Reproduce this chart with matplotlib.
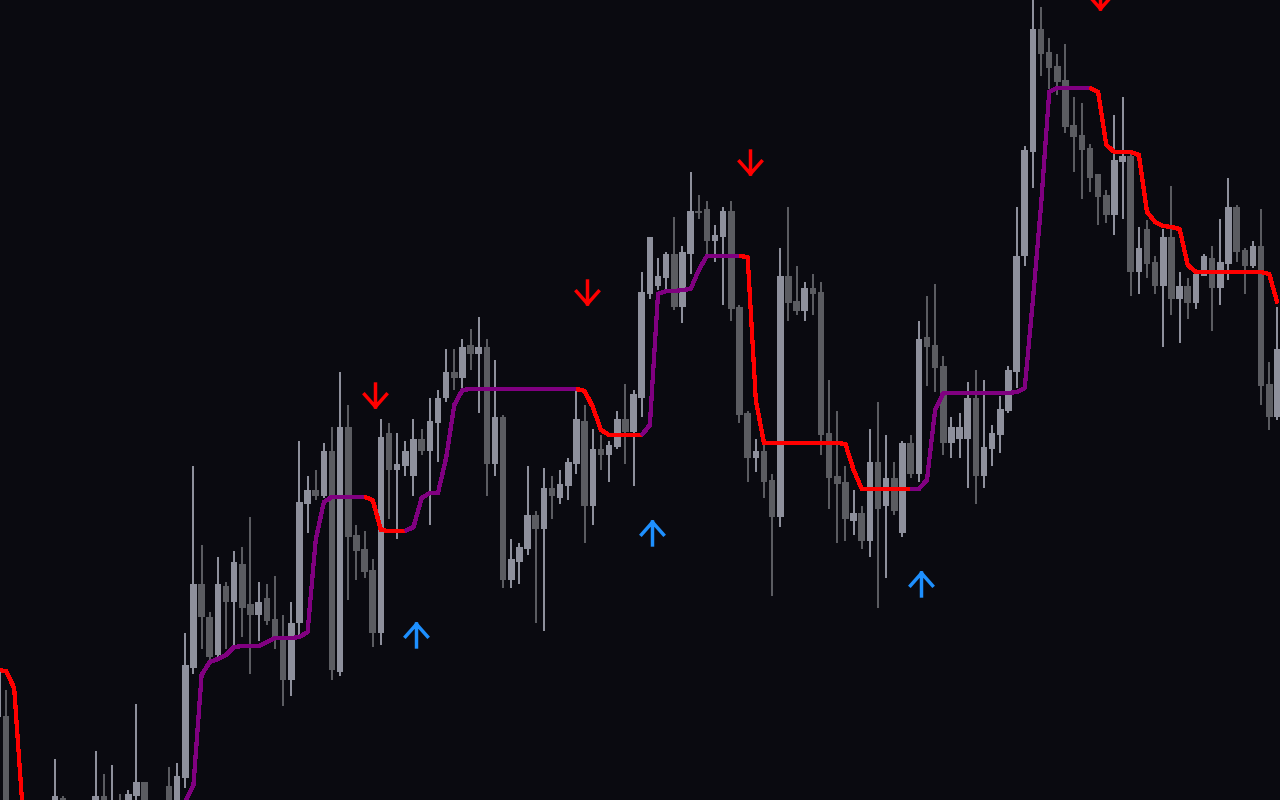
import matplotlib
matplotlib.use("Agg")
import matplotlib.pyplot as plt
from matplotlib.markers import MarkerStyle
from matplotlib.path import Path
import numpy as np

# candle data, first candle sits just left of the visible window
opens = [83, 84, -30, -55, -70, -60, -50, -20, 2, -15,
         -10, -20, -12, 4, -20, -6, -12, 4, 18, -15,
         -25, 14, -12, 22, 132, 216, 183, 145, 214, 198,
         236, 196, 185, 202, 181, 161, 120, 177, 296, 310,
         304, 349, 128, 373, 265, 251, 230, 167, 367, 330,
         334, 324, 361, 349, 377, 402, 428, 422, 455, 446,
         453, 336, 383, 220, 238, 251, 285, 271, 312, 302,
         314, 336, 379, 294, 351, 345, 353, 381, 368, 402,
         506, 514, 522, 546, 493, 546, 589, 591, 559, 563,
         589, 493, 387, 342, 349, 320, 283, 524, 499, 489,
         512, 508, 367, 324, 318, 279, 287, 259, 338, 294,
         322, 267, 357, 326, 463, 455, 434, 357, 361, 361,
         402, 324, 351, 365, 389, 428, 544, 648, 771, 748,
         734, 720, 675, 665, 652, 626, 605, 585, 638, 644,
         528, 571, 538, 514, 563, 501, 514, 497, 524, 542,
         512, 536, 593, 550, 534, 554, 416, 383]
highs = [132, 110, -20, -45, -50, -40, -20, 41, 4, -5,
         -8, -3, 49, 26, 35, 6, 10, 96, 18, -5,
         -10, 33, 37, 167, 334, 255, 188, 243, 218, 249,
         253, 283, 218, 216, 224, 185, 198, 359, 324, 330,
         357, 373, 428, 395, 275, 269, 241, 381, 377, 367,
         359, 381, 371, 402, 410, 451, 451, 461, 471, 483,
         461, 440, 385, 261, 257, 334, 289, 332, 324, 330,
         342, 410, 395, 371, 365, 359, 389, 416, 410, 528,
         563, 542, 548, 583, 554, 628, 605, 599, 575, 593,
         599, 495, 389, 361, 358, 326, 552, 593, 534, 518,
         526, 518, 420, 389, 334, 310, 294, 371, 398, 365,
         338, 359, 365, 479, 504, 516, 444, 383, 387, 418,
         430, 420, 375, 404, 434, 593, 654, 805, 793, 762,
         746, 756, 703, 697, 656, 626, 610, 685, 703, 646,
         573, 580, 544, 571, 614, 528, 522, 530, 546, 554,
         581, 622, 595, 552, 559, 591, 438, 493]
lows = [80, -45, -65, -85, -80, -75, -60, -30, -25, -25,
        -30, -28, -20, -25, -30, -25, -20, -10, -25, -35,
        -35, -20, -20, 12, 126, 151, 140, 143, 151, 153,
        163, 126, 159, 175, 151, 94, 104, 163, 267, 300,
        302, 120, 124, 200, 220, 222, 153, 155, 281, 261,
        324, 304, 345, 275, 338, 398, 410, 410, 430, 387,
        304, 324, 212, 212, 216, 245, 177, 169, 281, 296,
        300, 326, 257, 275, 330, 318, 351, 336, 314, 383,
        501, 510, 508, 490, 477, 526, 581, 543, 538, 495,
        479, 377, 318, 328, 302, 204, 273, 479, 485, 479,
        485, 345, 291, 257, 259, 265, 251, 243, 192, 222,
        285, 263, 322, 318, 414, 408, 345, 342, 342, 312,
        296, 312, 334, 347, 387, 412, 534, 612, 724, 711,
        705, 667, 628, 601, 608, 575, 577, 565, 581, 504,
        506, 522, 506, 453, 485, 457, 481, 491, 524, 469,
        495, 520, 538, 506, 532, 395, 370, 380]
closes = [130, -30, -55, -70, -60, -50, -30, 4, -15, -10,
          -20, -10, 4, -15, -6, -12, 6, 18, -15, -25,
          -20, -10, 24, 135, 216, 183, 143, 216, 198, 238,
          192, 185, 198, 179, 161, 120, 177, 298, 310, 304,
          349, 130, 373, 263, 249, 228, 167, 363, 330, 336,
          349, 361, 349, 379, 402, 428, 422, 453, 446, 453,
          336, 383, 220, 241, 253, 285, 271, 312, 304, 316,
          338, 381, 294, 351, 345, 355, 381, 368, 406, 508,
          563, 524, 546, 493, 548, 589, 587, 559, 565, 589,
          491, 385, 342, 349, 318, 283, 524, 497, 489, 512,
          506, 365, 322, 316, 281, 287, 259, 338, 291, 322,
          289, 357, 326, 461, 453, 432, 357, 373, 373, 402,
          324, 353, 367, 391, 430, 544, 650, 771, 746, 732,
          718, 673, 663, 650, 622, 603, 585, 640, 644, 528,
          552, 536, 514, 563, 501, 514, 497, 526, 544, 512,
          538, 593, 548, 534, 554, 414, 383, 451]

# trend line level per candle
trend_line = [130, 129, 112, -5, -60, -70, -70, -70, -70, -70,
              -70, -70, -70, -70, -70, -70, -70, -70, -70, -70,
              -70, -60, -40, -2, 15, 125, 138, 141, 145, 153,
              154, 154, 154, 158, 162, 162, 162, 163, 168, 260,
              298, 303, 303, 303, 303, 303, 300, 270, 269, 269,
              269, 273, 302, 307, 307, 342, 395, 410, 411, 411,
              411, 411, 411, 411, 411, 411, 411, 411, 411, 411,
              411, 411, 409, 393, 370, 365, 365, 365, 365, 365,
              375, 506, 509, 509, 510, 511, 530, 544, 544, 544,
              544, 544, 543, 400, 357, 357, 357, 357, 357, 357,
              357, 357, 357, 357, 356, 330, 311, 311, 311, 311,
              311, 311, 311, 311, 320, 390, 407, 407, 407, 407,
              407, 407, 407, 407, 407, 408, 412, 500, 595, 708,
              712, 712, 712, 712, 712, 708, 655, 648, 648, 648,
              645, 588, 578, 574, 573, 571, 535, 528, 528, 528,
              528, 528, 528, 528, 528, 528, 526, 497]

# signal candles and the level of their arrows
sell_idx = [45, 71, 91, 134]
sell_level = [405.5, 508.5, 638.5, 803.5]
buy_idx = [20, 50, 79, 112]
buy_level = [-160, 165.5, 267.5, 216]

bg = "#0a0a10"
up_col = "#8e909c"
down_col = "#5b5c61"
bull_line = "#800080"
bear_line = "#ff0000"

n = len(opens)
x = np.arange(n) - 1
o = np.array(opens, float)
h = np.array(highs, float)
l = np.array(lows, float)
c = np.array(closes, float)

fig = plt.figure(figsize=(12.8, 8), dpi=100, facecolor=bg)
ax = fig.add_axes([0, 0, 1, 1])
ax.set_facecolor(bg)
ax.axis("off")

cols = [up_col if cc >= oo else down_col for oo, cc in zip(o, c)]
ax.vlines(x, l, h, colors=cols, linewidth=1.44, antialiased=False, zorder=2)
body = np.maximum(np.abs(c - o), 1.2)
ax.bar(x, body, bottom=np.minimum(o, c), width=0.8, color=cols,
       linewidth=0, antialiased=False, zorder=3)

# trend state from the signals
trend = np.empty(n)
state = -1
for j in range(n):
    if x[j] in buy_idx:
        state = 1
    if x[j] in sell_idx:
        state = -1
    trend[j] = state

lv = np.array(trend_line, float)
start = 1
for j in range(2, n + 1):
    if j == n or trend[j] != trend[start]:
        colr = bull_line if trend[start] > 0 else bear_line
        ax.plot(x[start - 1:j], lv[start - 1:j], color=colr, lw=2.3,
                solid_joinstyle="round", solid_capstyle="butt",
                antialiased=False, zorder=4)
        start = j

# arrow markers
down_path = Path([(0, 0.5), (0, -0.5), (-0.46, 0.09), (0, -0.43), (0.46, 0.09)],
                 [Path.MOVETO, Path.LINETO, Path.MOVETO, Path.LINETO, Path.LINETO])
up_path = Path([(0, -0.5), (0, 0.5), (-0.46, -0.09), (0, 0.43), (0.46, -0.09)],
               [Path.MOVETO, Path.LINETO, Path.MOVETO, Path.LINETO, Path.LINETO])
down_m = MarkerStyle(down_path, joinstyle="miter", capstyle="butt")
up_m = MarkerStyle(up_path, joinstyle="miter", capstyle="butt")

ax.plot(np.array(sell_idx) + 0.27, sell_level, linestyle="none", marker=down_m,
        markersize=19, markeredgewidth=2.5, markeredgecolor="#ff0000",
        markerfacecolor="none", zorder=5)
ax.plot(np.array(buy_idx) + 0.27, buy_level, linestyle="none", marker=up_m,
        markersize=19, markeredgewidth=2.5, markeredgecolor="#1e90ff",
        markerfacecolor="none", zorder=5)

ax.set_xlim(-6 / 8.15, 1274 / 8.15)
ax.set_ylim(0, 800)

fig.savefig("out.png", dpi=100, facecolor=bg)
